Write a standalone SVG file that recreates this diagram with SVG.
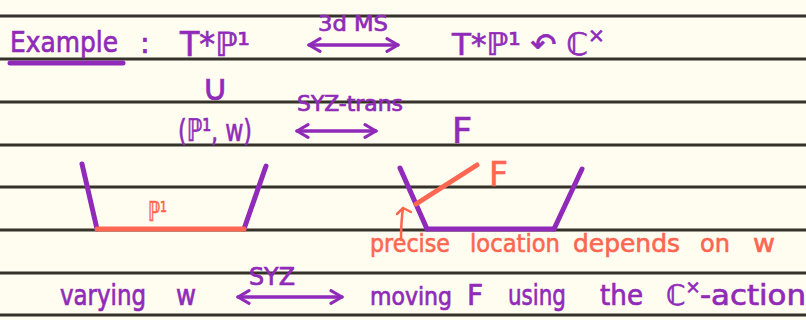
<svg xmlns="http://www.w3.org/2000/svg" width="806" height="320" viewBox="0 0 806 320">
<defs>
<style>
.rule{stroke:#35322a;stroke-width:3}
.p{fill:#8f2bb8;stroke:#8f2bb8;stroke-width:0.7;font-family:"DejaVu Sans","Liberation Sans",sans-serif}
.o{fill:#fd6651;stroke:#fd6651;stroke-width:0.6;font-family:"DejaVu Sans","Liberation Sans",sans-serif}
.pl{stroke:#8f2bb8;stroke-linecap:round;fill:none}
.ol{stroke:#fd6651;stroke-linecap:round;fill:none}
.arr{stroke:#8f2bb8;stroke-width:3.5;stroke-linecap:round;fill:none;marker-start:url(#h);marker-end:url(#h)}
</style>
<marker id="h" viewBox="0 0 10 10" refX="9" refY="5" markerWidth="4.5" markerHeight="4.5" orient="auto-start-reverse" markerUnits="strokeWidth">
<path d="M2,1 L9,5 L2,9" fill="none" stroke="#8f2bb8" stroke-width="2" stroke-linecap="round" stroke-linejoin="round"/>
</marker>
</defs>
<rect width="806" height="320" fill="#fffcf0"/>
<g id="rules">
<line class="rule" x1="0" y1="16" x2="806" y2="16"/>
<line class="rule" x1="0" y1="59" x2="806" y2="59"/>
<line class="rule" x1="0" y1="102" x2="806" y2="102"/>
<line class="rule" x1="0" y1="145" x2="806" y2="145"/>
<line class="rule" x1="0" y1="187" x2="806" y2="187"/>
<line class="rule" x1="0" y1="230" x2="806" y2="230"/>
<line class="rule" x1="0" y1="273" x2="806" y2="273"/>
<line class="rule" x1="0" y1="315" x2="806" y2="315"/>
</g>
<g id="title">
<text class="p" x="10" y="52" font-size="29" textLength="108" lengthAdjust="spacingAndGlyphs">Example</text>
<line class="pl" x1="10" y1="63" x2="123" y2="63" stroke-width="5"/>
<text class="p" x="140" y="53" font-size="29">:</text>
</g>
<g id="node-tp1">
<text class="p" x="180" y="56" font-size="33" textLength="70" lengthAdjust="spacingAndGlyphs">T*ℙ¹</text>
</g>
<g id="node-tp1-action">
<text class="p" x="452" y="55" font-size="31">T*ℙ¹ ↶ ℂ<tspan font-size="20" dy="-13">×</tspan></text>
</g>
<g id="node-cup">
<text class="p" x="215" y="100" font-size="36" text-anchor="middle">∪</text>
</g>
<g id="node-p1w">
<text class="p" x="178" y="141" font-size="31" textLength="74" lengthAdjust="spacingAndGlyphs">(ℙ¹, w)</text>
</g>
<g id="node-F">
<text class="p" x="452" y="143" font-size="35">F</text>
</g>
<g id="left-picture">
<line class="pl" x1="82" y1="164" x2="97" y2="229" stroke-width="5"/>
<line class="pl" x1="266" y1="166" x2="244" y2="229" stroke-width="5"/>
<line class="ol" x1="97" y1="229" x2="244" y2="229" stroke-width="5"/>
<text class="o" x="148" y="221" font-size="27" textLength="19" lengthAdjust="spacingAndGlyphs">ℙ¹</text>
</g>
<g id="right-picture">
<line class="pl" x1="400" y1="168" x2="427" y2="229" stroke-width="5"/>
<line class="pl" x1="427" y1="229" x2="554" y2="229" stroke-width="5"/>
<line class="pl" x1="554" y1="229" x2="582" y2="169" stroke-width="5"/>
<line class="ol" x1="416" y1="204" x2="477" y2="165" stroke-width="5"/>
<text class="o" x="489" y="186" font-size="33">F</text>
<path class="ol" d="M401,240 Q401,222 403,208 M397,214 L403,208 L411,212" stroke-width="2.5"/>
</g>
<g id="note">
<text class="o" x="370" y="252" font-size="25" textLength="80" lengthAdjust="spacingAndGlyphs">precise</text>
<text class="o" x="470" y="252" font-size="25" textLength="90" lengthAdjust="spacingAndGlyphs">location</text>
<text class="o" x="573" y="252" font-size="25" textLength="107" lengthAdjust="spacingAndGlyphs">depends</text>
<text class="o" x="700" y="252" font-size="25" textLength="30" lengthAdjust="spacingAndGlyphs">on</text>
<text class="o" x="753" y="252" font-size="25" textLength="22" lengthAdjust="spacingAndGlyphs">w</text>
</g>
<g id="node-varying">
<text class="p" x="60" y="305" font-size="28" textLength="86" lengthAdjust="spacingAndGlyphs">varying</text>
<text class="p" x="176" y="305" font-size="28" textLength="20" lengthAdjust="spacingAndGlyphs">w</text>
</g>
<g id="node-moving">
<text class="p" x="370" y="305" font-size="24" textLength="82" lengthAdjust="spacingAndGlyphs">moving</text>
<text class="p" x="467" y="305" font-size="28">F</text>
<text class="p" x="508" y="305" font-size="28" textLength="58" lengthAdjust="spacingAndGlyphs">using</text>
<text class="p" x="600" y="305" font-size="28" textLength="43" lengthAdjust="spacingAndGlyphs">the</text>
<text class="p" x="666" y="305" font-size="28">ℂ<tspan font-size="18" dy="-12">×</tspan></text>
<text class="p" x="700" y="305" font-size="28" textLength="106" lengthAdjust="spacingAndGlyphs">-action</text>
</g>
<g id="connectors">
<line class="arr" x1="309" y1="45" x2="398" y2="45"/>
<text class="p" x="318" y="31" font-size="21" textLength="70" lengthAdjust="spacingAndGlyphs">3d MS</text>
<line class="arr" x1="297" y1="131" x2="376" y2="131"/>
<text class="p" x="297" y="111" font-size="21" textLength="106" lengthAdjust="spacingAndGlyphs">SYZ-trans</text>
<line class="arr" x1="238" y1="297" x2="342" y2="297" stroke-width="5"/>
<text class="p" x="249" y="285" font-size="24" textLength="46" lengthAdjust="spacingAndGlyphs">SYZ</text>
</g>
</svg>
